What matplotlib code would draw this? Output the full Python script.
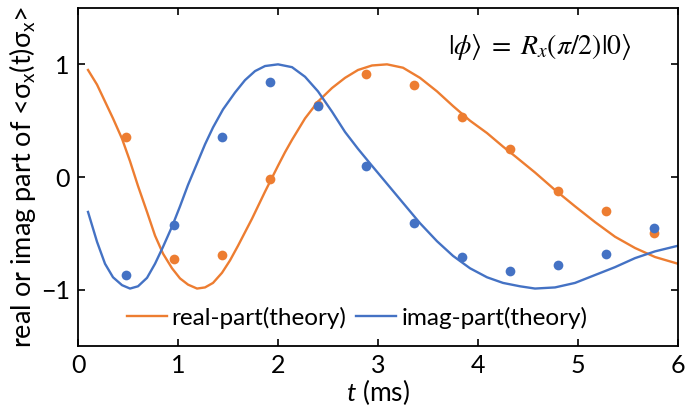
import numpy as np
import matplotlib
matplotlib.use('Agg')
import matplotlib.pyplot as plt

plt.rcParams['font.family'] = ['Lato', 'DejaVu Sans']
plt.rcParams['mathtext.fontset'] = 'custom'
plt.rcParams['mathtext.rm'] = 'Lato'
plt.rcParams['mathtext.it'] = 'Lato:italic'

# measured points
t_meas = [0.48, 0.96, 1.44, 1.92, 2.40, 2.88, 3.36, 3.84, 4.32, 4.80, 5.28, 5.76]
real_meas = [0.355, -0.73, -0.69, -0.02, 0.64, 0.915, 0.82, 0.53, 0.25, -0.12, -0.30, -0.50]
imag_meas = [-0.87, -0.43, 0.355, 0.845, 0.63, 0.10, -0.41, -0.71, -0.83, -0.78, -0.68, -0.45]

# theory curves
t_real = [0.10, 0.19, 0.27, 0.35, 0.44, 0.52, 0.60, 0.69, 0.77, 0.85, 0.94, 1.02, 1.10, 1.19,
          1.27, 1.35, 1.44, 1.52, 1.60, 1.67, 1.74, 1.87, 2.00, 2.07, 2.14, 2.27, 2.40, 2.54,
          2.67, 2.80, 2.94, 3.09, 3.25, 3.42, 3.59, 3.75, 3.92, 4.09, 4.25, 4.37, 4.57, 4.77,
          4.97, 5.17, 5.37, 5.57, 5.77, 6.00]
real_th = [0.95, 0.82, 0.67, 0.52, 0.34, 0.14, -0.08, -0.31, -0.52, -0.68, -0.81, -0.90, -0.955, -0.99,
           -0.98, -0.94, -0.85, -0.74, -0.61, -0.49, -0.37, -0.13, 0.10, 0.22, 0.33, 0.52, 0.67, 0.79,
           0.88, 0.95, 0.99, 1.0, 0.97, 0.88, 0.76, 0.63, 0.50, 0.39, 0.27, 0.185, 0.04, -0.115,
           -0.26, -0.40, -0.53, -0.63, -0.71, -0.77]

t_imag = [0.10, 0.19, 0.27, 0.35, 0.44, 0.52, 0.60, 0.69, 0.77, 0.85, 0.94, 1.02, 1.10, 1.19,
          1.27, 1.35, 1.45, 1.57, 1.67, 1.77, 1.87, 2.00, 2.14, 2.27, 2.40, 2.54, 2.67, 2.80,
          2.93, 3.09, 3.25, 3.42, 3.59, 3.75, 3.92, 4.09, 4.25, 4.42, 4.57, 4.77, 4.97, 5.17,
          5.37, 5.57, 5.77, 6.00]
imag_th = [-0.31, -0.575, -0.77, -0.89, -0.96, -0.99, -0.97, -0.895, -0.77, -0.62, -0.44, -0.26, -0.07, 0.12,
           0.29, 0.44, 0.60, 0.75, 0.86, 0.94, 0.985, 1.0, 0.975, 0.89, 0.76, 0.58, 0.40, 0.25,
           0.11, -0.06, -0.23, -0.41, -0.57, -0.70, -0.81, -0.89, -0.94, -0.97, -0.99, -0.98, -0.94, -0.87,
           -0.80, -0.72, -0.66, -0.61]

orange = '#ED7D31'
blue = '#4472C4'

fig = plt.figure(figsize=(6.85, 4.13), dpi=100)
ax = fig.add_axes([0.1139, 0.1622, 0.8759, 0.8184])

ax.plot(t_real, real_th, color=orange, lw=1.7, label='real-part(theory)')
ax.plot(t_imag, imag_th, color=blue, lw=1.7, label='imag-part(theory)')
ax.plot(t_meas, real_meas, 'o', color=orange, ms=7, mec='none')
ax.plot(t_meas, imag_meas, 'o', color=blue, ms=7, mec='none')

ax.set_xlim(0, 6)
ax.set_ylim(-1.5, 1.5)
ax.set_xticks([0, 1, 2, 3, 4, 5, 6])
ax.set_yticks([-1, 0, 1])
ax.tick_params(direction='in', length=5, width=1.2, labelsize=18, top=True, right=True, pad=6)
for s in ax.spines.values():
    s.set_linewidth(1.3)

ax.set_xlabel('$t$ (ms)', fontsize=19, labelpad=0)
ax.set_ylabel('real or imag part of <σ$_\\mathrm{x}$(t)σ$_\\mathrm{x}$>', fontsize=19.5, labelpad=2)

ax.text(0.77, 0.885, r'$|\phi\rangle\;=\;R_x(\pi/2)|0\rangle$', transform=ax.transAxes,
        ha='center', va='center', fontsize=20, math_fontfamily='stix')

ax.legend(loc='lower center', bbox_to_anchor=(0.465, 0.0), ncol=2, frameon=False,
          fontsize=17.5, handlelength=1.65, handletextpad=0.2, columnspacing=0.4, borderaxespad=0.3)

fig.savefig('out.png', dpi=100)
